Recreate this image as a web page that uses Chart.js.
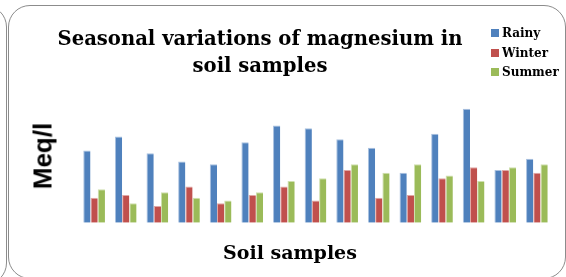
<!DOCTYPE html>
<html>
<head>
<meta charset="utf-8">
<script src="https://cdn.jsdelivr.net/npm/chart.js"></script>
<style>
  html, body { margin: 0; padding: 0; background: #fff; }
  #wrap { position: relative; width: 566px; height: 277px; overflow: hidden; }
  #chart { position: absolute; left: 0; top: 0; }
  .frame { position: absolute; border: 1.5px solid #8c8c8c; border-radius: 22px; box-sizing: border-box; }
  .serif { font-family: "DejaVu Serif", serif; font-weight: bold; color: #000; position: absolute; white-space: nowrap; }
  #title { left: 40px; width: 440px; top: 26px; text-align: center; font-size: 19.6px; line-height: 26.5px; }
  #xtitle { left: 190px; width: 200px; top: 241px; text-align: center; font-size: 19px; }
  #ytitle { position: absolute; font-family: "Liberation Sans", Arial, sans-serif; font-weight: bold; font-size: 26px;
            left: 43px; top: 156px; transform: translate(-50%, -50%) rotate(-90deg); white-space: nowrap; }
  #legend { position: absolute; left: 491px; top: 26px; }
  .item { position: relative; height: 19.5px; font-size: 12px; }
  .item i { position: absolute; left: 0; top: 3px; width: 8px; height: 8px; }
  .item span { position: absolute; left: 11px; top: 0; }
</style>
</head>
<body>
<div id="wrap">
  <div class="frame" style="left:-560px; top:5px; width:567px; height:280px;"></div>
  <div class="frame" style="left:8px; top:5px; width:558px; height:274px;"></div>
  <canvas id="chart" width="566" height="277"></canvas>
  <div id="title" class="serif">Seasonal variations of magnesium in<br>soil samples</div>
  <div id="xtitle" class="serif">Soil samples</div>
  <div id="ytitle">Meq/l</div>
  <div id="legend" class="serif"></div>
</div>
<script>
// samples 1..15, Mg
const samples = ['S1','S2','S3','S4','S5','S6','S7','S8','S9','S10','S11','S12','S13','S14','S15'];
const rainy  = [2.6, 3.1, 2.5, 2.2, 2.1, 2.9, 3.5, 3.4, 3.0, 2.7, 1.8, 3.2, 4.1, 1.9, 2.3];
const winter = [0.9, 1.0, 0.6, 1.3, 0.7, 1.0, 1.3, 0.8, 1.9, 0.9, 1.0, 1.6, 2.0, 1.9, 1.8];
const summer = [1.2, 0.7, 1.1, 0.9, 0.8, 1.1, 1.5, 1.6, 2.1, 1.8, 2.1, 1.7, 1.5, 2.0, 2.1];
const seriesNames = ['Rainy', 'Winter', 'Summer'];
const colors = ['#4F81BD', '#C0504D', '#9BBB59'];
const edges = ['#A9C1E0', '#E0A8A6', '#CFE0AE'];

const datasets = [rainy, winter, summer].map((d, i) => ({
    label: seriesNames[i],
    data: d,
    backgroundColor: colors[i],
    borderColor: edges[i],
    borderWidth: { left: 1, top: 1, right: 0, bottom: 0 },
    borderSkipped: false,
    categoryPercentage: 0.686,
    barPercentage: 1.0
}));

new Chart(document.getElementById('chart'), {
    type: 'bar',
    data: { labels: samples, datasets: datasets },
    options: {
        responsive: false,
        animation: false,
        layout: { padding: { left: 78.3, right: 13.3, top: 83.8, bottom: 54.3 } },
        plugins: { legend: { display: false }, title: { display: false }, tooltip: { enabled: false } },
        scales: {
            x: { display: false },
            y: { display: false, min: 0, max: 5 }
        }
    }
});

// legend
const legend = document.getElementById('legend');
seriesNames.forEach((name, i) => {
    const row = document.createElement('div');
    row.className = 'item';
    row.innerHTML = `<i style="background:${colors[i]}"></i><span>${name}</span>`;
    legend.appendChild(row);
});
</script>
</body>
</html>
